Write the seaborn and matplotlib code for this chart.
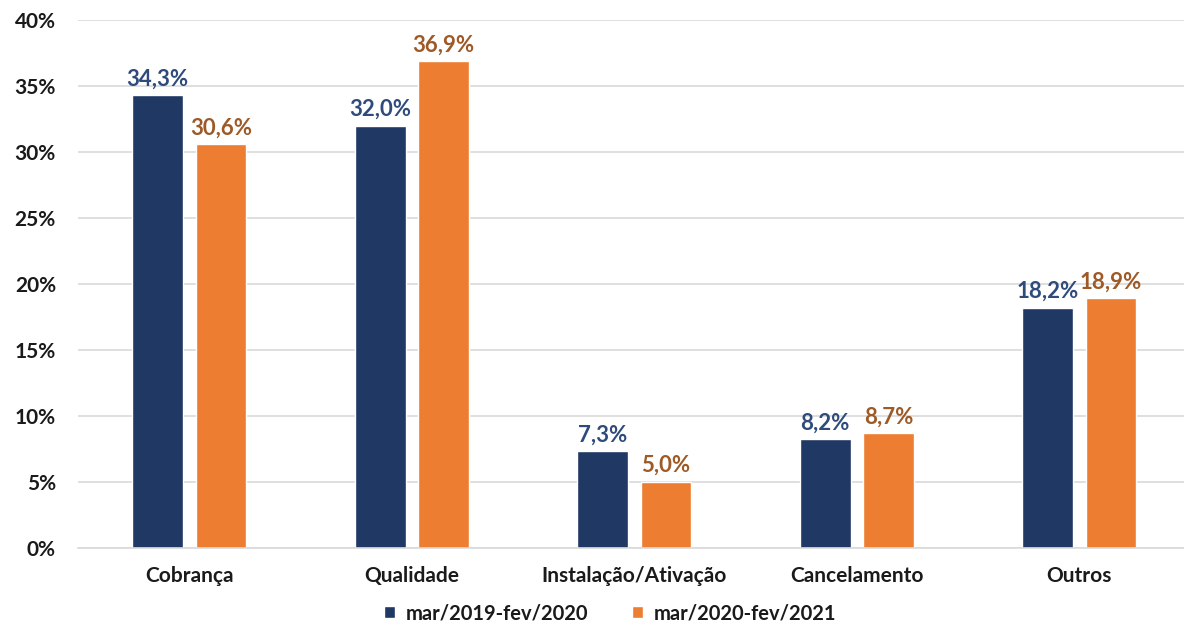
import matplotlib
matplotlib.use("Agg")
import matplotlib.pyplot as plt
import seaborn as sns
import pandas as pd
from matplotlib.ticker import FuncFormatter

categories = ["Cobrança", "Qualidade", "Instalação/Ativação", "Cancelamento", "Outros"]
periods = ["mar/2019-fev/2020", "mar/2020-fev/2021"]
values_2019 = [34.3, 32.0, 7.3, 8.2, 18.2]
values_2020 = [30.6, 36.9, 5.0, 8.7, 18.9]

bar_colors = ["#203864", "#ED7D31"]
label_colors = ["#2F4B7C", "#9E5A26"]

df = pd.DataFrame({
    "categoria": categories * 2,
    "periodo": [periods[0]] * len(categories) + [periods[1]] * len(categories),
    "valor": values_2019 + values_2020,
})

sns.set_theme(style="white")
plt.rcParams["font.family"] = ["Lato", "DejaVu Sans"]

fig, ax = plt.subplots(figsize=(11.84, 6.28), dpi=100)
fig.subplots_adjust(left=0.066, right=1.0, top=0.968, bottom=0.128)

sns.barplot(data=df, x="categoria", y="valor", hue="periodo",
            palette=bar_colors, width=0.57, gap=0.2, ax=ax,
            saturation=1, legend=True)

for container, color in zip(ax.containers, label_colors):
    labels = [f"{v:.1f}%".replace(".", ",") for v in container.datavalues]
    ax.bar_label(container, labels=labels, padding=4, color=color,
                 fontsize=16, fontweight="bold")

ax.set_xlim(-0.5, 4.47)
ax.set_ylim(0, 40)
ax.set_yticks(range(0, 41, 5))
ax.yaxis.set_major_formatter(FuncFormatter(lambda v, _: f"{v:.0f}%"))
ax.grid(axis="y", color="#D9D9D9", linewidth=1.2)
ax.set_axisbelow(True)
ax.set_xlabel("")
ax.set_ylabel("")
for side in ["top", "right", "left"]:
    ax.spines[side].set_visible(False)
ax.spines["bottom"].set_color("#D9D9D9")
ax.spines["bottom"].set_linewidth(1.2)
ax.tick_params(axis="both", length=0, colors="#1A1A1A")
ax.tick_params(axis="y", labelsize=15, pad=16)
ax.tick_params(axis="x", labelsize=15, pad=13)
for t in ax.get_xticklabels() + ax.get_yticklabels():
    t.set_fontweight("bold")

leg = ax.legend(loc="upper center", bbox_to_anchor=(0.481, -0.079), ncol=2,
                frameon=False, fontsize=14.5, handlelength=0.55,
                handleheight=0.55, columnspacing=2.2, handletextpad=0.5,
                borderpad=0.2)
for t in leg.get_texts():
    t.set_fontweight("bold")
    t.set_color("#1A1A1A")

fig.savefig("out.png", dpi=100)
